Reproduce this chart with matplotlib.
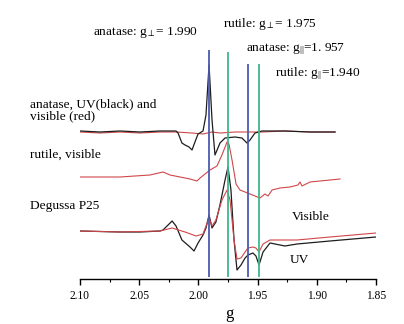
import matplotlib
matplotlib.use('Agg')
import matplotlib.pyplot as plt
from matplotlib.ticker import MultipleLocator, FormatStrFormatter

plt.rcParams['font.family'] = ['Liberation Serif', 'DejaVu Serif']
plt.rcParams['mathtext.fontset'] = 'stix'

# anatase, UV (black)
ana_uv_g = [2.100, 2.0831, 2.0662, 2.0493, 2.0324, 2.0189, 2.0172, 2.0139, 2.0113, 2.0079,
            2.0054, 2.0029, 2.0003, 1.9961, 1.9936, 1.9910, 1.9885, 1.9860, 1.9835, 1.9818,
            1.9775, 1.9691, 1.9632, 1.9590, 1.9564, 1.9522, 1.9463, 1.9269, 1.9058, 1.8846]
ana_uv_i = [148, 147, 148, 147, 148, 148, 146, 136, 134, 132,
            129, 137, 145, 148, 164, 214, 159, 124, 131, 136,
            141, 142, 141, 136, 139, 146, 148, 148, 147, 147]

# anatase, visible (red)
ana_vis_g = [2.100, 2.0831, 2.0662, 2.0493, 2.0324, 2.0189, 2.0054, 1.9961, 1.9885, 1.9818,
             1.9691, 1.9564, 1.9463, 1.9269, 1.9058, 1.8846]
ana_vis_i = [147, 146, 147, 146, 147, 147, 146, 145, 147, 146,
             147, 147, 147, 148, 147, 147]

# rutile, visible
rut_g = [2.100, 2.0662, 2.0409, 2.0299, 2.0240, 2.0071, 2.0012, 1.9986, 1.9902, 1.9843,
         1.9801, 1.9758, 1.9742, 1.9716, 1.9682, 1.9649, 1.9564, 1.9480, 1.9438, 1.9412,
         1.9378, 1.9311, 1.9226, 1.9159, 1.9142, 1.9125, 1.9057, 1.8973, 1.8804]
rut_i = [102, 102, 104, 107, 104, 100, 98, 101, 109, 113,
         124, 137, 135, 119, 95, 89, 85, 81, 85, 83,
         89, 91, 92, 94, 97, 93, 97, 98, 100]

# Degussa P25, UV (black)
p25_uv_g = [2.100, 2.0662, 2.0493, 2.0324, 2.0299, 2.0222, 2.0189, 2.0139, 2.0071, 2.0037,
            2.0003, 1.9961, 1.9936, 1.9910, 1.9885, 1.9852, 1.9818, 1.9775, 1.9750, 1.9725,
            1.9699, 1.9674, 1.9640, 1.9606, 1.9581, 1.9539, 1.9514, 1.9488, 1.9454, 1.9395,
            1.9269, 1.9167, 1.8889, 1.8500]
p25_uv_i = [48, 47, 47, 48, 49, 58, 53, 39, 32, 28,
            36, 44, 51, 64, 51, 57, 74, 99, 112, 89,
            39, 9, 14, 21, 24, 26, 23, 14, 27, 36,
            33, 35, 38, 42]

# Degussa P25, visible (red)
p25_vis_g = [2.100, 2.0662, 2.0324, 2.0222, 2.0113, 2.0020, 1.9961, 1.9910, 1.9885, 1.9852,
             1.9801, 1.9758, 1.9733, 1.9699, 1.9674, 1.9640, 1.9606, 1.9581, 1.9539, 1.9514,
             1.9488, 1.9454, 1.9395, 1.9167, 1.8889, 1.8500]
p25_vis_i = [48, 47, 48, 51, 47, 43, 45, 61, 53, 59,
             79, 89, 79, 39, 20, 21, 27, 31, 32, 31,
             27, 35, 39, 39, 42, 46]

# marker lines (g position, top)
line_g = [1.9908, 1.9753, 1.9580, 1.9488]
line_top = [229, 227, 215, 215]
line_colors = ['#4a5cb0', '#3db88c', '#4a5cb0', '#3db88c']

xticks = [2.10, 2.05, 2.00, 1.95, 1.90, 1.85]

fig = plt.figure(figsize=(4.04, 3.24), dpi=100)
ax = fig.add_axes([80 / 404, 1 - 279 / 324, 296 / 404, 279 / 324])

black = '#1e1e1e'
red = '#d0474a'
ax.plot(ana_vis_g, ana_vis_i, color=red, lw=0.8)
ax.plot(ana_uv_g, ana_uv_i, color=black, lw=0.9)
ax.plot(rut_g, rut_i, color=red, lw=0.8)
ax.plot(p25_uv_g, p25_uv_i, color=black, lw=0.9)
ax.plot(p25_vis_g, p25_vis_i, color=red, lw=0.8)

for g, top, c in zip(line_g, line_top, line_colors):
    ax.vlines(g, 2, top, color=c, lw=1.3, zorder=3)

ax.set_xlim(2.10, 1.85)
ax.set_ylim(0, 279)
for s in ['left', 'right', 'top']:
    ax.spines[s].set_visible(False)
ax.spines['bottom'].set_linewidth(1.0)
ax.set_yticks([])
ax.set_xticks(xticks)
ax.xaxis.set_major_formatter(FormatStrFormatter('%.2f'))
ax.xaxis.set_minor_locator(MultipleLocator(0.025))
ax.tick_params(axis='x', which='major', direction='out', length=4, width=1.0,
               labelsize=8.3, pad=4)
ax.tick_params(axis='x', which='minor', direction='out', length=2.5, width=0.8)
ax.patch.set_visible(False)

def label(x, y, s, size=9.6):
    fig.text(x / 404, 1 - y / 324, s, fontsize=size, va='center', ha='left')

label(93, 33, r'anatase: $\mathregular{g_{\perp}}$= 1.990')
label(223, 24, r'rutile: $\mathregular{g_{\perp}}$= 1.975')
label(246, 49, r'anatase: $\mathregular{g_{||}}$=1. 957')
label(275, 74, r'rutile: $\mathregular{g_{||}}$=1.940')
label(30, 104, 'anatase, UV(black) and')
label(30, 116, 'visible (red)')
label(30, 155, 'rutile, visible')
label(30, 206, 'Degussa P25')
label(292, 217, 'Visible')
label(290, 260, 'UV')
fig.text(229 / 404, 1 - 314 / 324, 'g', fontsize=12, ha='center', va='center')

fig.savefig('out.png', dpi=100)
